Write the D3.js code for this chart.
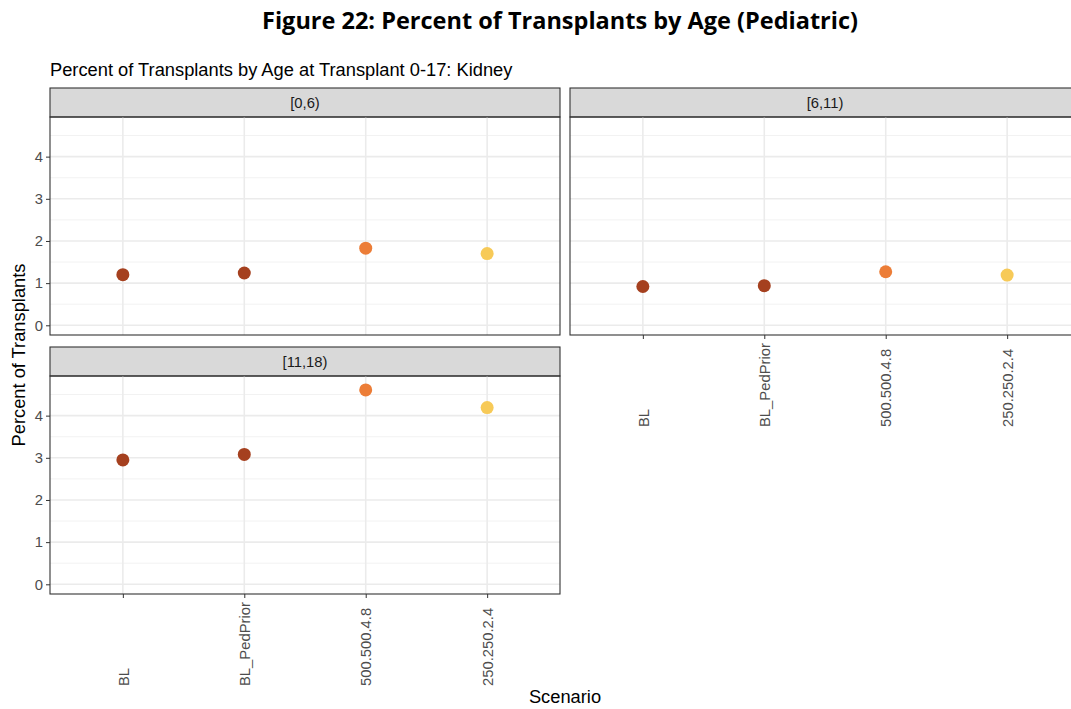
<!DOCTYPE html>
<html lang="en">
<head>
  <meta charset="utf-8">
  <title>Percent of Transplants by Age (Pediatric)</title>
  <script src="https://d3js.org/d3.v7.min.js"></script>
  <style>
    body { margin: 0; background: #fff; }
    text { font-family: "Liberation Sans", Arial, sans-serif; }
    .title { font-family: "Open Sans", "Noto Sans", sans-serif; font-weight: bold; }
  </style>
</head>
<body>
  <script>
    var scenarios = ["BL", "BL_PedPrior", "500.500.4.8", "250.250.2.4"];
    var colors = ["#a5401f", "#a5401f", "#ec7d37", "#f7ca58"];
    var ageGroups = ["[0,6)", "[6,11)", "[11,18)"];
    var pct0to6 = [1.20, 1.24, 1.83, 1.70];
    var pct6to11 = [0.92, 0.94, 1.27, 1.19];
    var pct11to18 = [2.95, 3.08, 4.61, 4.19];
    var yTicks = [0, 1, 2, 3, 4];

    var width = 1071, height = 709;
    var svg = d3.select("body").append("svg")
      .attr("width", width)
      .attr("height", height);

    svg.append("text")
      .attr("class", "title")
      .attr("x", 560).attr("y", 29)
      .attr("text-anchor", "middle")
      .attr("font-size", 23.5)
      .attr("fill", "#000")
      .text("Figure 22: Percent of Transplants by Age (Pediatric)");

    svg.append("text")
      .attr("x", 50).attr("y", 76)
      .attr("font-size", 18.3)
      .attr("fill", "#000")
      .text("Percent of Transplants by Age at Transplant 0-17: Kidney");

    // facet layout (ggplot facet_wrap, 2 columns)
    var pw = 510, ph = 218, stripH = 29;
    var panels = [
      { label: ageGroups[0], values: pct0to6, x: 50, y: 117, yAxis: true, xAxis: false },
      { label: ageGroups[1], values: pct6to11, x: 570, y: 117, yAxis: false, xAxis: true },
      { label: ageGroups[2], values: pct11to18, x: 50, y: 376, yAxis: true, xAxis: true }
    ];

    var x = d3.scalePoint().domain(scenarios).range([0, pw]).padding(0.6);
    var y = d3.scaleLinear().domain([-0.23, 4.94]).range([ph, 0]);
    var minorTicks = [0.5, 1.5, 2.5, 3.5, 4.5];

    panels.forEach(function(p) {
      var g = svg.append("g").attr("transform", "translate(" + p.x + "," + p.y + ")");

      // strip
      g.append("rect")
        .attr("x", 0).attr("y", -stripH)
        .attr("width", pw).attr("height", stripH)
        .attr("fill", "#d9d9d9")
        .attr("stroke", "#333").attr("stroke-width", 1.1);
      g.append("text")
        .attr("x", pw / 2).attr("y", -stripH / 2)
        .attr("dy", "0.35em")
        .attr("text-anchor", "middle")
        .attr("font-size", 14.8)
        .attr("fill", "#1a1a1a")
        .text(p.label);

      // grid
      g.selectAll(".minor").data(minorTicks).enter().append("line")
        .attr("x1", 0).attr("x2", pw)
        .attr("y1", function(d) { return y(d); })
        .attr("y2", function(d) { return y(d); })
        .attr("stroke", "#f2f2f2").attr("stroke-width", 1);
      g.selectAll(".major").data(yTicks).enter().append("line")
        .attr("x1", 0).attr("x2", pw)
        .attr("y1", function(d) { return y(d); })
        .attr("y2", function(d) { return y(d); })
        .attr("stroke", "#ebebeb").attr("stroke-width", 1.6);
      g.selectAll(".vgrid").data(scenarios).enter().append("line")
        .attr("x1", function(d) { return x(d); })
        .attr("x2", function(d) { return x(d); })
        .attr("y1", 0).attr("y2", ph)
        .attr("stroke", "#ebebeb").attr("stroke-width", 1.6);

      // points
      g.selectAll("circle").data(p.values).enter().append("circle")
        .attr("cx", function(d, i) { return x(scenarios[i]); })
        .attr("cy", function(d) { return y(d); })
        .attr("r", 6.5)
        .attr("fill", function(d, i) { return colors[i]; });

      // panel border
      g.append("rect")
        .attr("width", pw).attr("height", ph)
        .attr("fill", "none")
        .attr("stroke", "#333").attr("stroke-width", 1.1);

      if (p.yAxis) {
        var ya = g.append("g").call(d3.axisLeft(y).tickValues(yTicks).tickSize(4).tickPadding(3).tickFormat(d3.format("d")));
        ya.select(".domain").remove();
        ya.selectAll("line").attr("stroke", "#333");
        ya.selectAll("text").attr("font-size", 14.8).attr("fill", "#4d4d4d")
          .attr("font-family", "Liberation Sans, Arial, sans-serif");
      }
      if (p.xAxis) {
        var xa = g.append("g").attr("transform", "translate(0," + ph + ")")
          .call(d3.axisBottom(x).tickSize(4).tickPadding(3));
        xa.select(".domain").remove();
        xa.selectAll("line").attr("stroke", "#333");
        xa.selectAll("text")
          .attr("font-size", 14.8).attr("fill", "#4d4d4d")
          .attr("font-family", "Liberation Sans, Arial, sans-serif")
          .attr("text-anchor", "start")
          .attr("transform", "translate(0,92) rotate(-90)")
          .attr("x", 0).attr("y", 0).attr("dy", "0.35em");
      }
    });

    // axis titles
    svg.append("text")
      .attr("transform", "translate(25,355) rotate(-90)")
      .attr("text-anchor", "middle")
      .attr("font-size", 18.3)
      .attr("fill", "#000")
      .text("Percent of Transplants");

    svg.append("text")
      .attr("x", 565).attr("y", 703)
      .attr("text-anchor", "middle")
      .attr("font-size", 18.3)
      .attr("fill", "#000")
      .text("Scenario");
  </script>
</body>
</html>
